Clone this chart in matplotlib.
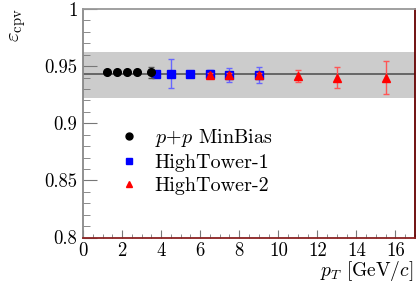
import matplotlib
matplotlib.use("Agg")
import matplotlib.pyplot as plt
from matplotlib.ticker import MultipleLocator, FuncFormatter
from matplotlib.lines import Line2D

plt.rcParams['mathtext.fontset'] = 'cm'
plt.rcParams['font.family'] = ['cmr10', 'DejaVu Serif']
plt.rcParams['axes.formatter.use_mathtext'] = True

# data
mb_x = [1.25, 1.75, 2.25, 2.75, 3.5]
mb_y = [0.9445, 0.9445, 0.9445, 0.9445, 0.9445]
mb_err = [0.0, 0.0, 0.0, 0.0, 0.0045]

ht1_x = [3.75, 4.5, 5.5, 6.5, 7.5, 9.0]
ht1_y = [0.9435, 0.9435, 0.9435, 0.9432, 0.9425, 0.9418]
ht1_err = [0.0, 0.013, 0.0, 0.0035, 0.006, 0.007]

ht2_x = [6.5, 7.5, 9.0, 11.0, 13.0, 15.5]
ht2_y = [0.942, 0.942, 0.942, 0.941, 0.940, 0.940]
ht2_err = [0.002, 0.002, 0.002, 0.0053, 0.0095, 0.0148]

mean_val = 0.9435
band_lo, band_hi = 0.9225, 0.9625

labels = [r'$p$+$p$ MinBias', 'HighTower-1', 'HighTower-2']

fig = plt.figure(figsize=(4.16, 2.84), dpi=100)
ax = fig.add_axes([83/416, 1-237.5/284, (415-83)/416, (237.5-9)/284])

ax.set_xlim(0, 17)
ax.set_ylim(0.8, 1.0)
ax.axhspan(band_lo, band_hi, color='#cccccc', zorder=0, lw=0)
ax.axhline(mean_val, color='#555555', lw=1.2, zorder=1)

ax.errorbar(ht1_x, ht1_y, yerr=ht1_err, fmt='s', color='blue', ms=5.5,
            ecolor='#6666ff', elinewidth=1, capsize=2, zorder=3)
ax.errorbar(ht2_x, ht2_y, yerr=ht2_err, fmt='^', color='red', ms=5.5,
            ecolor='#ff5555', elinewidth=1, capsize=2, zorder=4)
ax.errorbar(mb_x, mb_y, yerr=mb_err, fmt='o', color='black', ms=5.5,
            ecolor='#555555', elinewidth=1, capsize=2, zorder=5)

handles = [Line2D([], [], ls='none', marker='o', color='black', ms=5),
           Line2D([], [], ls='none', marker='s', color='blue', ms=5),
           Line2D([], [], ls='none', marker='^', color='red', ms=5)]
ax.legend(handles, labels, loc='lower left',
          bbox_to_anchor=(0.07, 0.105), frameon=False, fontsize=14.5,
          handlelength=0.5, handletextpad=1.0, labelspacing=0.25)

ax.xaxis.set_major_locator(MultipleLocator(2))
ax.xaxis.set_minor_locator(MultipleLocator(0.5))
ax.yaxis.set_major_locator(MultipleLocator(0.05))
ax.yaxis.set_minor_locator(MultipleLocator(0.01))

def yfmt(v, p):
    s = ('%.2f' % v).rstrip('0').rstrip('.')
    return s
ax.yaxis.set_major_formatter(FuncFormatter(yfmt))
ax.xaxis.set_major_formatter(FuncFormatter(lambda v, p: '%d' % v))

ax.tick_params(axis='both', which='both', direction='in', colors='#777777',
               labelcolor='black', labelsize=13.5)
ax.tick_params(axis='y', which='major', length=10, pad=4)
ax.tick_params(axis='y', which='minor', length=5)
ax.tick_params(axis='x', which='major', length=6, pad=3)
ax.tick_params(axis='x', which='minor', length=3)

ax.spines['left'].set_color('#888888')
ax.spines['top'].set_color('#999999')
ax.spines['right'].set_color('#660000')
ax.spines['bottom'].set_color('#8b2222')
for s in ax.spines.values():
    s.set_linewidth(1.3)

fig.text(18/416, 1-25/284, r'$\varepsilon_{\rm cpv}$', rotation=90,
         ha='center', va='center', fontsize=15)
fig.text(413/416, 1-271/284, r'$p_T$ [GeV/$c$]', ha='right', va='center', fontsize=14)

fig.savefig('out.png', dpi=100)
